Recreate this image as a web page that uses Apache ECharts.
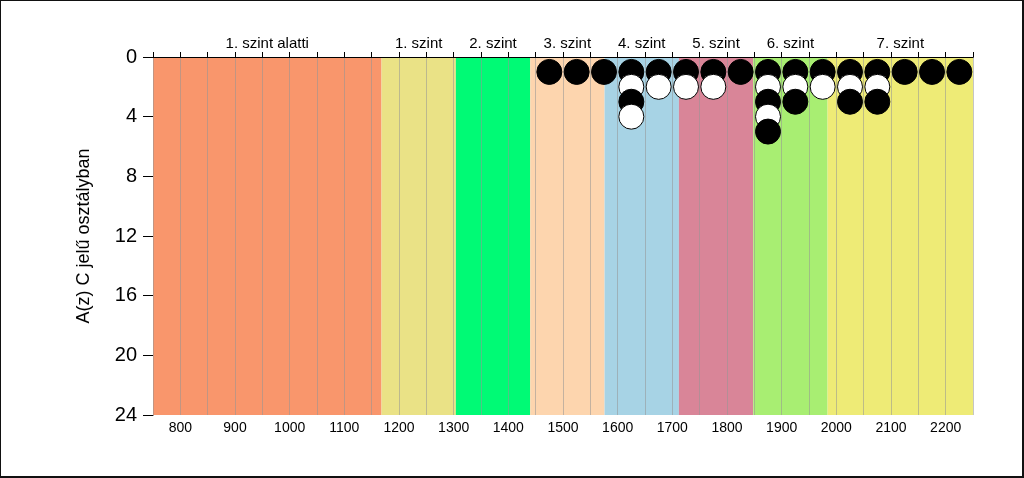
<!DOCTYPE html>
<html>
<head>
<meta charset="utf-8">
<script src="https://cdn.jsdelivr.net/npm/echarts@6/dist/echarts.min.js"></script>
<style>
html,body{margin:0;padding:0;background:#fff;}
#frame{width:1024px;height:478px;box-sizing:border-box;border-left:1px solid #111;border-top:1px solid #111;border-right:2px solid #111;border-bottom:2px solid #111;background:#fff;}
#chart{width:1021px;height:475px;}
</style>
</head>
<body>
<div id="frame"><div id="chart"></div></div>
<script>
// Band (level) definitions
const bandEdges = [750, 1168, 1304, 1440, 1576, 1712, 1848, 1984, 2250];
const bandNames = ['1. szint alatti', '1. szint', '2. szint', '3. szint', '4. szint', '5. szint', '6. szint', '7. szint'];
const bandColors = ['#F9966C', '#EAE286', '#00FA75', '#FDD5AE', '#A7D3E5', '#D98598', '#A8EE72', '#EEEB76'];

// Points: [score, count position]
const blackPoints = [
  [1475, 1], [1525, 1], [1575, 1], [1625, 1], [1625, 3], [1675, 1], [1725, 1], [1775, 1],
  [1825, 1], [1875, 1], [1875, 3], [1875, 5], [1925, 1], [1925, 3], [1975, 1],
  [2025, 1], [2025, 3], [2075, 1], [2075, 3], [2125, 1], [2175, 1], [2225, 1]
];
const whitePoints = [
  [1625, 2], [1625, 4], [1675, 2], [1725, 2], [1775, 2], [1875, 2], [1875, 4],
  [1925, 2], [1975, 2], [2025, 2], [2075, 2]
];

const yTicks = [0, 4, 8, 12, 16, 20, 24];

const FONT = '"Liberation Sans", Arial, sans-serif';

const markAreaData = bandNames.map((n, i) => [
  { name: n, xAxis: bandEdges[i], itemStyle: { color: bandColors[i] } },
  { xAxis: bandEdges[i + 1] }
]);

const allPts = blackPoints.map(p => ({ value: p, itemStyle: { color: '#000', borderColor: '#000' } }))
  .concat(whitePoints.map(p => ({ value: p, itemStyle: { color: '#fff', borderColor: '#000' } })));
allPts.sort((a, b) => a.value[1] - b.value[1]);

const chart = echarts.init(document.getElementById('chart'), null, { renderer: 'canvas' });
chart.setOption({
  animation: false,
  textStyle: { fontFamily: FONT },
  grid: { left: 152, right: 49, top: 56, bottom: 61 },
  xAxis: [
    {
      type: 'value', min: 750, max: 2250, interval: 50, position: 'bottom', z: 2,
      axisLine: { show: true, lineStyle: { color: '#000', width: 1 } },
      axisTick: { show: true, inside: true, length: 4, lineStyle: { color: '#000' } },
      axisLabel: {
        color: '#000', fontSize: 14, fontFamily: FONT, margin: 6,
        formatter: v => (v % 100 === 0 ? String(v) : '')
      },
      splitLine: { show: true, lineStyle: { color: 'rgba(150,150,150,0.55)', width: 1 } }
    },
    {
      type: 'value', min: 750, max: 2250, interval: 50, position: 'top', z: 2,
      axisLine: { show: true, onZero: false, lineStyle: { color: '#000', width: 1 } },
      axisTick: { show: true, inside: false, length: 5, lineStyle: { color: '#000' } },
      axisLabel: { show: false },
      splitLine: { show: false }
    }
  ],
  yAxis: {
    type: 'value', inverse: true, min: yTicks[0], max: yTicks[yTicks.length - 1], interval: 4,
    name: 'A(z) C jelű osztályban', nameLocation: 'middle', nameGap: 60,
    nameTextStyle: { color: '#000', fontSize: 18, fontFamily: FONT },
    axisLine: { show: true, lineStyle: { color: '#000' } },
    axisTick: { show: true, inside: false, length: 10, lineStyle: { color: '#000' } },
    axisLabel: { color: '#000', fontSize: 20, fontFamily: FONT, margin: 16 },
    splitLine: { show: false }
  },
  series: [
    {
      type: 'scatter', z: 1, data: [], silent: true,
      markArea: {
        silent: true,
        label: { show: true, position: 'top', distance: 6, color: '#000', fontSize: 15, fontFamily: FONT },
        data: markAreaData
      }
    },
    {
      type: 'scatter', z: 5, symbol: 'circle', symbolSize: 25,
      itemStyle: { borderWidth: 1, opacity: 1 },
      data: allPts
    }
  ]
});
</script>
</body>
</html>
